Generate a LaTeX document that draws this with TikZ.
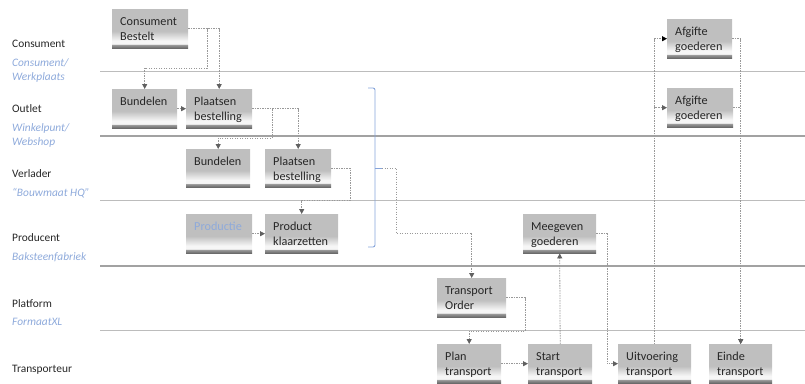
\documentclass[tikz,border=0pt]{standalone}
\usepackage{fontspec}
\setmainfont{Carlito}
\usetikzlibrary{arrows.meta,calc}

\definecolor{lanegray}{HTML}{BCBCBC}
\definecolor{lanedark}{HTML}{A2A2A2}
\definecolor{flowgray}{HTML}{999999}
\definecolor{tipgray}{HTML}{606060}
\definecolor{subblue}{HTML}{8EAADB}
\definecolor{braceblue}{HTML}{86A4DA}
\definecolor{inkc}{HTML}{262626}
\definecolor{boxtop}{HTML}{BFBFBF}
\definecolor{boxlight}{HTML}{F6F6F6}
\definecolor{barlight}{HTML}{9C9C9C}
\definecolor{bardark}{HTML}{686868}

% grey box fading to a light band above a dark foot bar
\pgfdeclareverticalshading{boxshade}{100bp}{color(0bp)=(bardark); color(25bp)=(bardark); color(29.5bp)=(barlight); color(30.5bp)=(boxlight); color(34.5bp)=(boxlight); color(47bp)=(boxtop); color(100bp)=(boxtop)}

\tikzset{
  lane/.style={draw=lanegray, line width=0.8bp},
  lanebold/.style={draw=lanedark, line width=1.3bp},
  title/.style={anchor=base west, inner sep=0pt, text=inkc, font=\fontsize{11.4bp}{14bp}\selectfont},
  subtitle/.style={anchor=base west, inner sep=0pt, text=subblue, font=\fontsize{11.4bp}{14bp}\selectfont\itshape},
  stepbox/.style={anchor=north west, shade, shading=boxshade, inner xsep=8bp, inner ysep=0pt,
    minimum height=39bp, text height=16.5bp, text depth=22.5bp, text=inkc,
    font=\fontsize{12.2bp}{14.5bp}\selectfont},
  flow/.style={draw=flowgray, line width=0.8bp, dash pattern=on 1.4bp off 1.1bp,
    -{Triangle[length=5bp,width=5bp,color=tipgray]}},
  flowdark/.style={flow, -{Triangle[length=5bp,width=5bp,color=black]}},
  bracket/.style={draw=braceblue, line width=0.9bp, rounded corners=2bp},
}

% \flowbox[options]{name}{x}{y}{width}{text}
\newcommand\flowbox[6][]{\node[stepbox, minimum width=#5bp, #1] (#2) at (#3,#4)
  {\parbox[t]{\dimexpr#5bp-16bp\relax}{\raggedright #6}};}

\begin{document}
\begin{tikzpicture}[x=1bp, y=-1bp]
\useasboundingbox (0,0) rectangle (805,383);

% swimlane separators
\draw[lane] (100,71) -- (805,71);
\draw[lanebold] (100,136) -- (805,136);
\draw[lane] (100,200) -- (805,200);
\draw[lanebold] (100,266) -- (805,266);
\draw[lane] (100,330) -- (805,330);

% swimlane titles
\node[title] (lc) at (12,47.5) {Consument};
\node[subtitle] (lcs) at (12,66.5) {\parbox[t]{90bp}{Consument/\\Werkplaats}};
\node[title] (lo) at (12,112.5) {Outlet};
\node[subtitle] (los) at (12,131.5) {\parbox[t]{90bp}{Winkelpunt/\\Webshop}};
\node[title] (lv) at (12,177) {Verlader};
\node[subtitle] (lvs) at (12,196) {“Bouwmaat HQ”};
\node[title] (lp) at (12,241.5) {Producent};
\node[subtitle] (lps) at (12,260) {Baksteenfabriek};
\node[title] (lf) at (12,307) {Platform};
\node[subtitle] (lfs) at (12,325.5) {FormaatXL};
\node[title] (lt) at (12,372) {Transporteur};

% process steps
\flowbox{cb}{112}{9}{76}{Consument\\Bestelt}
\flowbox{ob}{112}{89}{65}{Bundelen}
\flowbox{op}{186}{89}{66}{Plaatsen\\bestelling}
\flowbox[minimum height=38bp, text depth=21.5bp]{vb}{186}{149}{64}{Bundelen}
\flowbox[minimum height=38bp, text depth=21.5bp]{vp}{265}{149}{66}{Plaatsen\\bestelling}
\flowbox[text=subblue]{pp}{186}{214}{66}{Productie}
\flowbox{pk}{265}{214}{73}{Product\\klaarzetten}
\flowbox{a1}{667}{19}{65}{Afgifte\\goederen}
\flowbox{a2}{667}{88}{66}{Afgifte\\goederen}
\flowbox{mg}{523}{214}{73}{Meegeven\\goederen}
\flowbox{to}{437}{278}{69}{Transport\\Order}
\flowbox{pt}{437}{344}{64}{Plan\\transport}
\flowbox{st}{528}{344}{64}{Start\\transport}
\flowbox{ut}{618}{344}{73}{Uitvoering\\transport}
\flowbox{et}{709}{344}{63}{Einde\\transport}

% bracket grouping the ordering steps
\draw[bracket] (368,88) -- (375,88) -- (375,247) -- (368,247);
\coordinate (bracetip) at (382,168);
\draw[bracket] (375,168) -- (bracetip);

% flows
\draw[flow] (cb.east) -| (207,68) -| (ob.north);
\draw[flow] (cb.east) -| (op.north);
\draw[flow] (ob.east) -- (op.west);
\draw[flow] (op.east) -| (272,138) -| (vb.north);
\draw[flow] (op.east) -| (vp.north);
\draw[flow] (vp.east) -| (350,200) -| (pk.north);
\draw[flow] (pp.east) -- (pk.west);
\draw[flow] (bracetip) -| (396,233) -| (to.north);
\draw[flow] (to.east) -| (525,331) -| (pt.north);
\draw[flow] (pt.east) -- (st.west);
\draw[flow] (st.north) -- (mg.south);
\draw[flow] (mg.east) -| (607,300) |- (ut.west);
\draw[flow] (ut.north) |- (a2.west);
\draw[flowdark] (ut.north) |- (a1.west);
\draw[flow] (a2.east) -| (et.north);
\draw[flow] (a1.east) -| (et.north);
\end{tikzpicture}
\end{document}
